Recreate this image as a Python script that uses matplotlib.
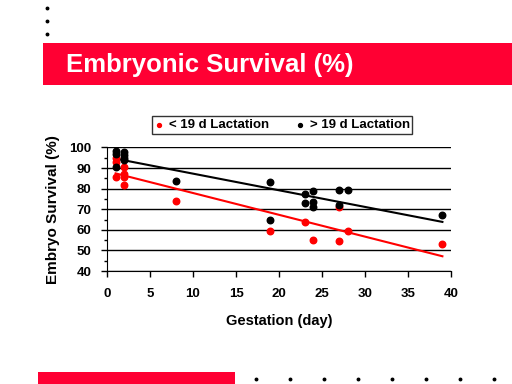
import numpy as np
import matplotlib
matplotlib.use("Agg")
import matplotlib.pyplot as plt
from matplotlib.patches import Rectangle
from matplotlib.lines import Line2D

plt.rcParams['font.family'] = ['Liberation Sans', 'DejaVu Sans']

# < 19 d lactation (red)
early_x = [1, 1, 1, 2, 2, 2, 2, 8, 19, 23, 24, 27, 27, 28, 39]
early_y = [95, 93, 85.5, 90.5, 87, 85.5, 82, 74, 59.5, 64, 55, 71, 54.5, 59.5, 53]

# > 19 d lactation (black)
late_x = [1, 1, 1, 2, 2, 2, 2, 8, 19, 19, 23, 23, 24, 24, 24, 27, 27, 28, 39]
late_y = [98.5, 97, 90.5, 98, 96.5, 95, 94, 83.5, 83, 65, 77.5, 73, 79, 73.5, 71, 79.5, 72, 79.5, 67]

title = "Embryonic Survival (%)"
red = "#FF0033"

fig = plt.figure(figsize=(5.12, 3.84), dpi=100)
fig.patch.set_facecolor("white")

# slide decorations
fig.add_artist(Rectangle((43 / 512, 1 - 85 / 384), 469 / 512, 42 / 384,
                         transform=fig.transFigure, color=red, lw=0))
fig.text(66 / 512, 1 - 65 / 384, title, color="white", fontsize=18.5,
         fontweight="bold", va="center", ha="left")
fig.add_artist(Rectangle((38 / 512, 0), 197 / 512, 12 / 384,
                         transform=fig.transFigure, color=red, lw=0))
for yy in [8, 21, 34]:
    fig.add_artist(Line2D([47 / 512], [1 - yy / 384], marker="o", ms=1.8,
                          color="black", transform=fig.transFigure))
for xx in range(256, 512, 34):
    fig.add_artist(Line2D([xx / 512], [1 - 379 / 384], marker="o", ms=1.8,
                          color="black", transform=fig.transFigure))

ax = fig.add_axes([107 / 512, 1 - 271 / 384, 344 / 512, 123.5 / 384])

ax.scatter(early_x, early_y, s=22, color="#FF0000", zorder=3, label="< 19 d Lactation")
ax.scatter(late_x, late_y, s=22, color="black", zorder=3, label="> 19 d Lactation")

for xs, ys, c in [(early_x, early_y, "#FF0000"), (late_x, late_y, "black")]:
    k, b = np.polyfit(xs, ys, 1)
    xl = np.array([min(xs), max(xs)])
    ax.plot(xl, k * xl + b, color=c, lw=1.5, zorder=2)

ax.set_xlim(0, 40)
ax.set_ylim(40, 100)
ax.set_xticks(range(0, 41, 5))
ax.set_yticks(range(40, 101, 10))
ax.set_yticks(range(45, 100, 10), minor=True)
ax.yaxis.grid(True, color="black", lw=1)
ax.set_axisbelow(True)
for s in ["top", "right"]:
    ax.spines[s].set_visible(False)
ax.spines["left"].set_color("black")
ax.spines["bottom"].set_color("black")
ax.tick_params(axis="both", labelsize=9.5, width=1, length=4, colors="black")
ax.tick_params(axis="y", which="minor", length=2, width=1)
ax.tick_params(axis="x", pad=8)
ax.tick_params(axis="y", pad=7)
for lab in ax.get_xticklabels() + ax.get_yticklabels():
    lab.set_fontweight("bold")

ax.set_xlabel("Gestation (day)", fontsize=10.5, fontweight="bold", labelpad=10)
ax.set_ylabel("Embryo Survival (%)", fontsize=11, fontweight="bold", labelpad=7)

leg = fig.legend(loc="center", bbox_to_anchor=(282 / 512, 1 - 125 / 384), ncol=2,
                 frameon=True, fancybox=False, edgecolor="black", fontsize=9.5,
                 handletextpad=0.3, columnspacing=2.0, markerscale=0.6,
                 borderpad=0.2, handlelength=0.8)
leg.get_frame().set_linewidth(1)
for t in leg.get_texts():
    t.set_fontweight("bold")

fig.savefig("out.png", dpi=100)
